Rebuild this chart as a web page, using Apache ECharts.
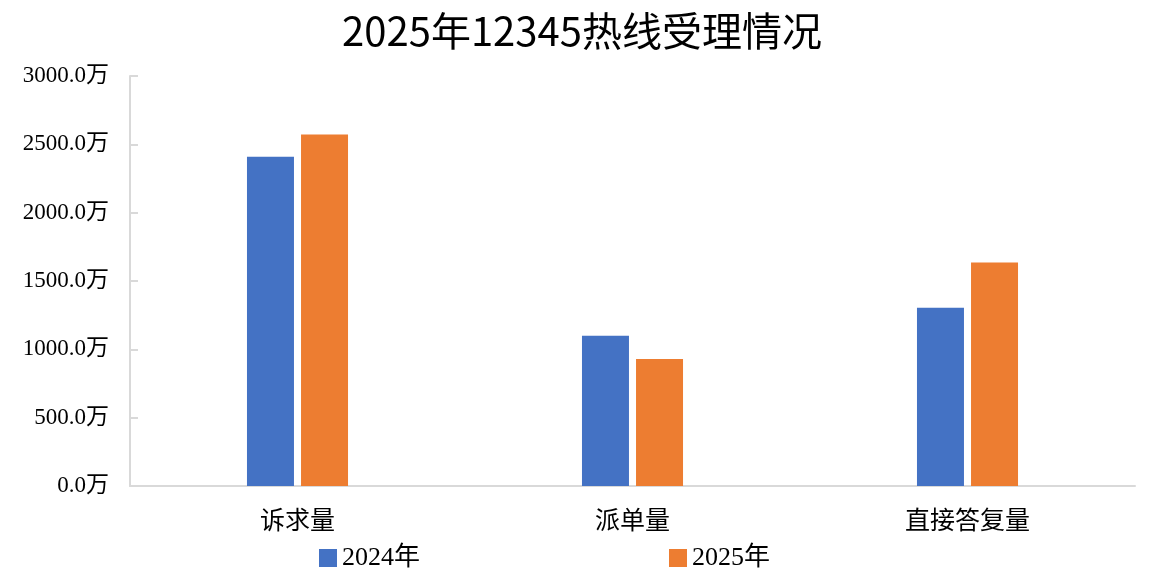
<!DOCTYPE html>
<html><head><meta charset="utf-8">
<script src="https://cdn.jsdelivr.net/npm/echarts@6/dist/echarts.min.js"></script>
<style>html,body{margin:0;padding:0;background:#fff}#c{width:1164px;height:581px}</style>
</head><body><div id="c"></div>
<script>
const categories = ['诉求量', '派单量', '直接答复量'];
const seriesNames = ['2024年', '2025年'];
const values2024 = [2410, 1100, 1305];
const values2025 = [2572, 930, 1635];
const yTicks = [0, 500, 1000, 1500, 2000, 2500, 3000];

const chart = echarts.init(document.getElementById('c'));
const serif = '"Liberation Serif", "Times New Roman", "Noto Sans CJK SC", serif';
chart.setOption({
  animation: false,
  backgroundColor: '#fff',
  title: {
    text: '2025年12345热线受理情况',
    left: 'center', top: 6,
    textStyle: { fontFamily: '"Noto Sans CJK SC", sans-serif', fontSize: 40, fontWeight: 'normal', color: '#000' }
  },
  legend: [
    { data: [seriesNames[0]], left: 314, top: 540, icon: 'rect', itemWidth: 18, itemHeight: 18, itemGap: 9,
      textStyle: { fontFamily: serif, fontSize: 26, color: '#000' } },
    { data: [seriesNames[1]], left: 664, top: 540, icon: 'rect', itemWidth: 18, itemHeight: 18, itemGap: 9,
      textStyle: { fontFamily: serif, fontSize: 26, color: '#000' } }
  ],
  grid: { left: 130, right: 29, top: 76, bottom: 95, containLabel: false },
  xAxis: {
    type: 'category', data: categories,
    axisLine: { lineStyle: { color: '#d9d9d9', width: 2 } },
    axisTick: { show: false },
    axisLabel: { fontFamily: serif, fontSize: 25, color: '#000', margin: 24 }
  },
  yAxis: {
    type: 'value', min: yTicks[0], max: yTicks[yTicks.length - 1], interval: 500,
    axisLine: { show: true, lineStyle: { color: '#d9d9d9', width: 2 } },
    axisTick: { show: true, inside: true, length: 8, lineStyle: { color: '#d9d9d9', width: 2 } },
    splitLine: { show: false },
    axisLabel: { fontFamily: serif, fontSize: 23, color: '#000', margin: 21,
      formatter: v => v.toFixed(1) + '万' }
  },
  series: [
    { name: seriesNames[0], type: 'bar', data: values2024, barWidth: 47, barGap: '15%',
      itemStyle: { color: '#4472c4' } },
    { name: seriesNames[1], type: 'bar', data: values2025, barWidth: 47,
      itemStyle: { color: '#ed7d31' } }
  ]
});
</script></body></html>
